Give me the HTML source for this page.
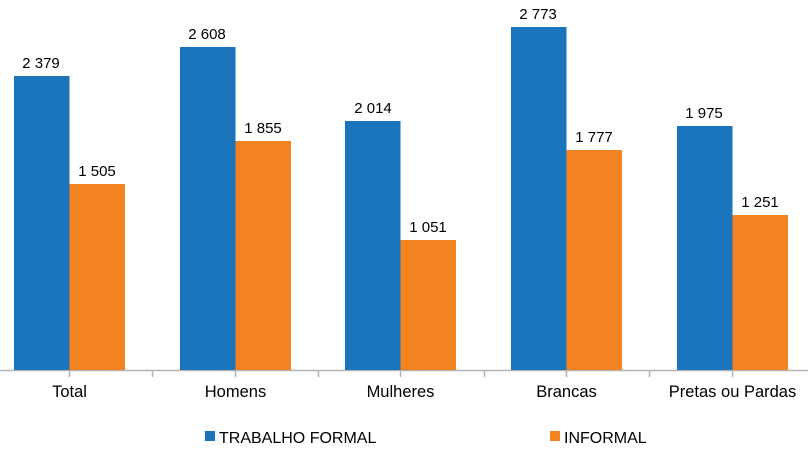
<!DOCTYPE html>
<html><head><style>body{margin:0;background:#fff}</style></head><body>
<svg width="808" height="466" xmlns="http://www.w3.org/2000/svg" font-family="Liberation Sans, sans-serif" font-size="15" fill="#000">
<line x1="0" y1="370.5" x2="808" y2="370.5" stroke="#b3b3b3" stroke-width="1.5"/>
<g stroke="#b3b3b3" stroke-width="1.5">
<line x1="69.5" y1="370" x2="69.5" y2="377"/><line x1="152.5" y1="370" x2="152.5" y2="377"/>
<line x1="235.5" y1="370" x2="235.5" y2="377"/><line x1="318.5" y1="370" x2="318.5" y2="377"/>
<line x1="400.5" y1="370" x2="400.5" y2="377"/><line x1="484.5" y1="370" x2="484.5" y2="377"/>
<line x1="566.5" y1="370" x2="566.5" y2="377"/><line x1="649.5" y1="370" x2="649.5" y2="377"/>
<line x1="732.5" y1="370" x2="732.5" y2="377"/>
</g>
<g fill="#1b75bc">
<rect x="14" y="76" width="55.5" height="294"/>
<rect x="180" y="47" width="55.5" height="323"/>
<rect x="345" y="121" width="55.5" height="249"/>
<rect x="511" y="27" width="55.5" height="343"/>
<rect x="677" y="126" width="55.5" height="244"/>
</g>
<g fill="#f58220">
<rect x="69.5" y="184" width="55.5" height="186"/>
<rect x="235.5" y="141" width="55.5" height="229"/>
<rect x="400.5" y="240" width="55.5" height="130"/>
<rect x="566.5" y="150" width="55.5" height="220"/>
<rect x="732.5" y="215" width="55.5" height="155"/>
</g>
<g text-anchor="middle">
<text x="41" y="68">2 379</text><text x="97" y="176">1 505</text>
<text x="207" y="39">2 608</text><text x="263" y="133">1 855</text>
<text x="373" y="113">2 014</text><text x="428" y="232">1 051</text>
<text x="538" y="19">2 773</text><text x="594" y="142">1 777</text>
<text x="704" y="118">1 975</text><text x="760" y="207">1 251</text>
</g>
<g text-anchor="middle" font-size="16.5">
<text x="69.5" y="397">Total</text><text x="235.5" y="397">Homens</text>
<text x="400.5" y="397">Mulheres</text><text x="566.5" y="397">Brancas</text>
<text x="732.5" y="397">Pretas ou Pardas</text>
</g>
<rect x="205" y="431" width="10" height="10" fill="#1b75bc"/>
<text x="219" y="443" font-size="16">TRABALHO FORMAL</text>
<rect x="550" y="431" width="10" height="10" fill="#f58220"/>
<text x="564" y="443" font-size="16">INFORMAL</text>
</svg>
</body></html>
